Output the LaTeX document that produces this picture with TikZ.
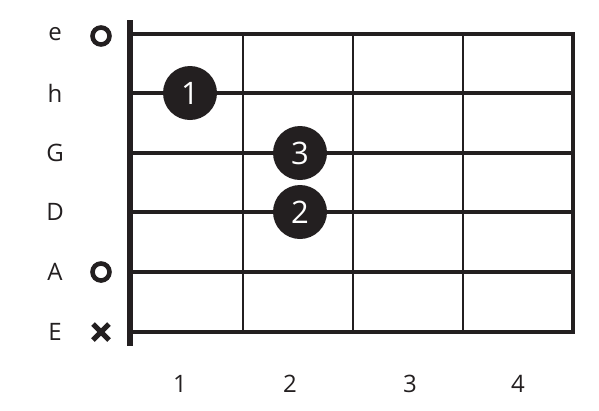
\documentclass[tikz,border=0pt]{standalone}
\usepackage{fontspec}
\setmainfont{Open Sans}
\definecolor{ink}{HTML}{231F20}
\begin{document}
\begin{tikzpicture}
  [x=1pt,y=-1pt,ink,
   every node/.style={text=ink,font=\fontsize{24}{24}\selectfont},
   finger/.style={circle,fill=ink,text=white,minimum size=54pt,inner sep=0pt,font=\fontsize{31}{31}\selectfont},
   openstr/.style={circle,draw=ink,line width=4.6pt,minimum size=17pt,inner sep=0pt}]
  \useasboundingbox (0,0) rectangle (599,410);

  % strings
  \foreach \name/\y/\w in {e/34/3.2, h/93/3.4, G/153/3.6, D/212/3.8, A/272/4, E/332/4.2}{
    \draw[line width=\w pt] (130,\y) -- (573,\y);
    \node (l\name) at (55,\y) {\name};
  }
  % frets
  \foreach \x in {243,353,463}
    \draw[line width=2.6pt] (\x,34) -- (\x,332);
  \draw[line width=3.6pt] (573,32.4) -- (573,334.1);
  % nut
  \draw[line width=6.5pt] (130,20) -- (130,346);

  \node[openstr] (oe) at (101,36) {};
  \node[openstr] (oA) at (101,272) {};
  \draw[line width=5pt] (93,324) -- (109,340) (93,340) -- (109,324);

  \node[finger] (f1) at (190,93) {1};
  \node[finger] (f3) at (300,153) {3};
  \node[finger] (f2) at (300,212) {2};

  \node (n1) at (180,384) {1};
  \node (n2) at (290,384) {2};
  \node (n3) at (410,384) {3};
  \node (n4) at (518,384) {4};
\end{tikzpicture}
\end{document}
